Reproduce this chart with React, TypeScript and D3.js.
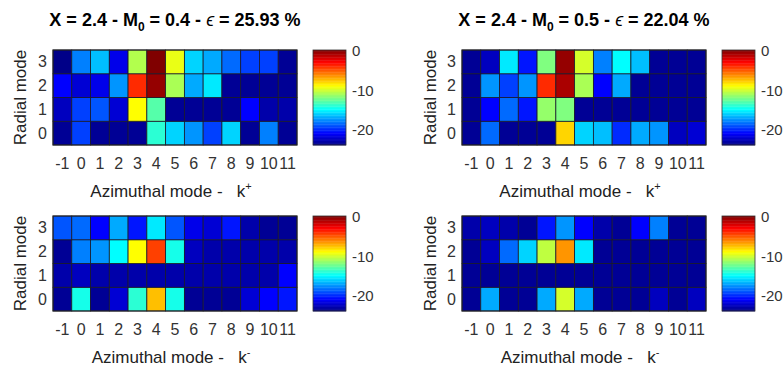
import React, { useEffect, useRef } from "react";
import * as d3 from "d3";

// azimuthal modes (columns) and radial modes (rows)
const azimuthalModes = [-1, 0, 1, 2, 3, 4, 5, 6, 7, 8, 9, 10, 11];
const radialModes = [0, 1, 2, 3];
const colorbarTicks = [0, -10, -20];

// levels in dB, one row per radial mode (0..3)
const kPlusM04 = [
  [-23.5, -19.5, -23.5, -23.5, -23.5, -14, -16, -17.5, -19.5, -16, -23.5, -18, -23.5],
  [-22.5, -19.5, -19, -22, -9, -13, -23.5, -23.5, -23.5, -23.5, -21, -23, -23],
  [-21, -22, -21.5, -17.5, -4, -0.5, -11, -17, -15.5, -23.5, -23.5, -23.5, -23.5],
  [-23.8, -18, -16.5, -21.5, -10.8, 0, -9.5, -16, -17, -18.5, -19.5, -19.5, -23.5],
];
const kPlusM05 = [
  [-23.5, -18.5, -23.5, -23.5, -23.5, -8, -16, -16.5, -20, -17, -17.5, -22.5, -22],
  [-23.5, -21, -18.5, -20.5, -11.5, -12, -23.5, -23.5, -23.5, -23.5, -23.5, -23.5, -23.5],
  [-23.5, -17.5, -19.5, -17.5, -4, -1, -11, -21, -17, -23.5, -23.5, -23.5, -23.5],
  [-23.5, -22.5, -15.5, -20.5, -12, -0.5, -10, -18, -15, -16.5, -23.5, -23.5, -23.5],
];
const kMinusM04 = [
  [-23.5, -14.5, -23.5, -22, -14, -7.5, -14.5, -23.5, -23.5, -23.5, -22, -21, -20.5],
  [-23, -22.5, -23, -23, -23, -23, -23, -23, -23, -23, -23, -23, -21],
  [-23.5, -18, -17.5, -15, -9, -4.5, -14.5, -22.5, -23, -23, -23, -23, -23],
  [-19, -18.5, -21, -17, -20.5, -15.5, -19, -21.5, -22, -20.5, -23, -23.5, -23.5],
];
const kMinusM05 = [
  [-23.5, -17, -23.5, -23.5, -17, -10, -17, -23.5, -23.5, -23.5, -22.5, -23.5, -22.5],
  [-23.5, -23.5, -23.5, -23.5, -23.5, -23.5, -23.5, -23.5, -23.5, -23.5, -23.5, -23.5, -23.5],
  [-23.5, -22.5, -18.5, -16, -10.5, -6.5, -15.5, -23.5, -23.5, -23.5, -23.5, -23.5, -23.5],
  [-23, -22.5, -23, -23.5, -20.5, -17.5, -21, -23, -23.5, -21, -18, -23.5, -23.5],
];

const FONT = "'Liberation Sans', Arial, Helvetica, sans-serif";

// matlab jet
const jet = (t) => {
  const c = (v) => Math.round(255 * Math.max(0, Math.min(1, v)));
  const r = Math.min(4 * t - 1.5, -4 * t + 4.5);
  const g = Math.min(4 * t - 0.5, -4 * t + 3.5);
  const b = Math.min(4 * t + 0.5, -4 * t + 2.5);
  return `rgb(${c(r)},${c(g)},${c(b)})`;
};

const App = () => {
  const ref = useRef();

  useEffect(() => {
    d3.select(ref.current).selectAll("*").remove();

    const width = 783;
    const height = 370;
    const svg = d3
      .select(ref.current)
      .append("svg")
      .attr("width", width)
      .attr("height", height)
      .style("display", "block")
      .style("font-family", FONT);

    const t = d3.scaleLinear().domain([-24, 0]).range([0, 1]).clamp(true);
    const color = (v) => jet(t(v));

    const panels = [
      { data: kPlusM04, x0: 53, y0: 50, title: ["0.4", "25.93"], sign: "+" },
      { data: kPlusM05, x0: 462, y0: 50, title: ["0.5", "22.04"], sign: "+" },
      { data: kMinusM04, x0: 53, y0: 216, title: null, sign: "-" },
      { data: kMinusM05, x0: 462, y0: 216, title: null, sign: "-" },
    ];

    panels.forEach((p) => {
      const w = 244;
      const h = 95;
      const g = svg.append("g").attr("transform", `translate(${p.x0},${p.y0})`);

      const x = d3.scaleBand().domain(azimuthalModes).range([0, w]);
      const y = d3.scaleBand().domain([...radialModes].reverse()).range([0, h]);

      // cells
      radialModes.forEach((r, i) => {
        g.selectAll(null)
          .data(p.data[i])
          .enter()
          .append("rect")
          .attr("x", (_, j) => x(azimuthalModes[j]))
          .attr("y", y(r))
          .attr("width", x.bandwidth())
          .attr("height", y.bandwidth())
          .attr("fill", (d) => color(d))
          .attr("stroke", "#1a1a2a")
          .attr("stroke-width", 0.8);
      });

      g.append("rect")
        .attr("width", w)
        .attr("height", h)
        .attr("fill", "none")
        .attr("stroke", "#222")
        .attr("stroke-width", 1);

      // x tick labels
      g.selectAll(null)
        .data(azimuthalModes)
        .enter()
        .append("text")
        .attr("x", (d) => x(d) + x.bandwidth() / 2)
        .attr("y", h + 24)
        .attr("text-anchor", "middle")
        .attr("font-size", 16)
        .attr("fill", "#333")
        .text((d) => d);

      // y tick labels
      g.selectAll(null)
        .data(radialModes)
        .enter()
        .append("text")
        .attr("x", -6)
        .attr("y", (d) => y(d) + y.bandwidth() / 2 + 5.5)
        .attr("text-anchor", "end")
        .attr("font-size", 16)
        .attr("fill", "#333")
        .text((d) => d);

      // axis labels
      const xl = g
        .append("text")
        .attr("x", w / 2 - 4)
        .attr("y", h + 52)
        .attr("text-anchor", "middle")
        .attr("font-size", 17)
        .attr("fill", "#222")
        .style("white-space", "pre");
      xl.append("tspan").text("Azimuthal mode -   k");
      xl.append("tspan")
        .attr("font-size", 11)
        .attr("dy", -7)
        .text(p.sign === "+" ? "+" : "-");

      g.append("text")
        .attr("transform", `translate(${-p.x0 + (p.x0 < 100 ? 26 : 436)},${h / 2}) rotate(-90)`)
        .attr("text-anchor", "middle")
        .attr("font-size", 17)
        .attr("fill", "#222")
        .text("Radial mode");

      // title
      if (p.title) {
        const tt = g
          .append("text")
          .attr("x", w / 2)
          .attr("y", -24)
          .attr("text-anchor", "middle")
          .attr("font-size", 18)
          .attr("font-weight", "bold")
          .attr("fill", "#000")
          .style("white-space", "pre");
        tt.append("tspan").text("X = 2.4 - M");
        tt.append("tspan").attr("font-size", 12).attr("dy", 5).text("0");
        tt.append("tspan").attr("dy", -5).text(` = ${p.title[0]} - `);
        tt.append("tspan").attr("font-weight", "normal").attr("font-style", "italic").text("\u03f5");
        tt.append("tspan").text(` = ${p.title[1]} %`);
      }

      // colorbar
      const cb = g.append("g").attr("transform", `translate(${w + 16},0)`);
      const cbw = 33;
      const cy = d3.scaleLinear().domain([-24, 0]).range([h, 0]);
      const levels = d3.range(64).map((i) => -24 + (i * 24) / 64);
      cb.selectAll(null)
        .data(levels)
        .enter()
        .append("rect")
        .attr("x", 0)
        .attr("y", (d) => cy(d + 24 / 64))
        .attr("width", cbw)
        .attr("height", h / 64 + 0.4)
        .attr("fill", (d) => jet(t(d + 12 / 64)));
      cb.append("rect")
        .attr("width", cbw)
        .attr("height", h)
        .attr("fill", "none")
        .attr("stroke", "#333")
        .attr("stroke-width", 0.8);
      cb.selectAll(null)
        .data(colorbarTicks)
        .enter()
        .append("text")
        .attr("x", cbw + 6)
        .attr("y", (d) => cy(d) + 6)
        .attr("font-size", 15)
        .attr("fill", "#333")
        .text((d) => d);
    });
  }, []);

  return <div ref={ref} style={{ position: "absolute", left: 0, top: 0 }}></div>;
};

export default App;
